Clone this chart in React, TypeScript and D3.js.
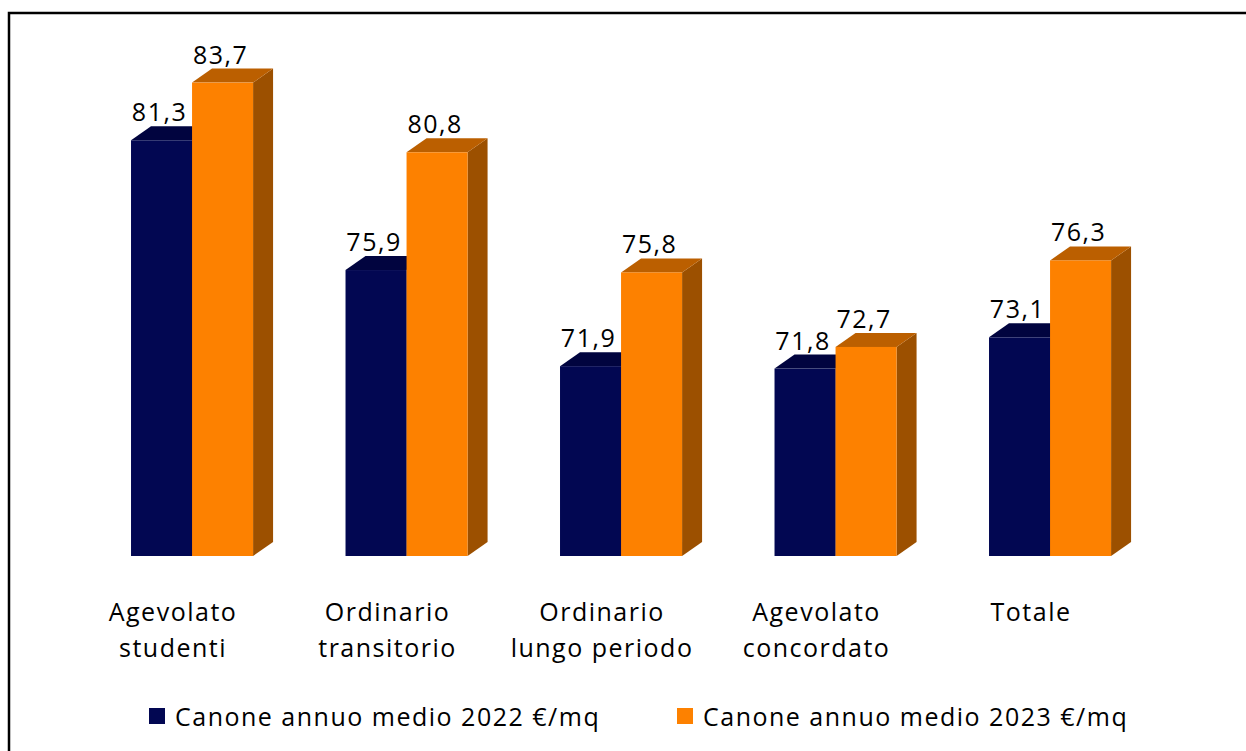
import React from "react";
import * as d3 from "d3";

const categories: string[][] = [
  ["Agevolato", "studenti"],
  ["Ordinario", "transitorio"],
  ["Ordinario", "lungo periodo"],
  ["Agevolato", "concordato"],
  ["Totale"],
];
const categoryKeys = categories.map((c) => c.join(" "));
const series2022: number[] = [81.3, 75.9, 71.9, 71.8, 73.1];
const series2023: number[] = [83.7, 80.8, 75.8, 72.7, 76.3];
const seriesNames = ["Canone annuo medio 2022 €/mq", "Canone annuo medio 2023 €/mq"];
const yDomain: [number, number] = [64, 84];

const W = 1246;
const H = 751;
const baseline = 556;
const dx = 20;
const dy = 14;
const FONT = "'Open Sans', sans-serif";

const colors = [
  { front: "#020752", top: "#01043f", side: "#01033a" },
  { front: "#fd8100", top: "#bb5f00", side: "#9c5000" },
];

const fmt = (v: number) => v.toFixed(1).replace(".", ",");

export default function App() {
  const x0 = d3
    .scaleBand<string>()
    .domain(categoryKeys)
    .range([84.8, 84.8 + 5 * 214.5])
    .paddingInner(0.431)
    .paddingOuter(0.2155);
  const x1 = d3.scaleBand<string>().domain(["2022", "2023"]).range([0, x0.bandwidth()]);
  const y = d3.scaleLinear().domain(yDomain).range([baseline, baseline - 20 * 24.03]);

  const data = [series2022, series2023];
  const keys = ["2022", "2023"];

  const bars: React.ReactNode[] = [];
  const labels: React.ReactNode[] = [];
  categoryKeys.forEach((cat, i) => {
    keys.forEach((k, s) => {
      const v = data[s][i];
      const bx = (x0(cat) as number) + (x1(k) as number);
      const bw = x1.bandwidth();
      const by = y(v);
      const c = colors[s];
      bars.push(
        <g key={`${cat}-${k}`}>
          <polygon
            points={`${bx + bw},${by} ${bx + bw + dx},${by - dy} ${bx + bw + dx},${baseline - dy} ${bx + bw},${baseline}`}
            fill={c.side}
          />
          <polygon
            points={`${bx},${by} ${bx + dx},${by - dy} ${bx + bw + dx},${by - dy} ${bx + bw},${by}`}
            fill={c.top}
          />
          <rect x={bx} y={by} width={bw} height={baseline - by} fill={c.front} />
        </g>
      );
      labels.push(
        <text
          key={`l-${cat}-${k}`}
          x={bx + bw / 2 - 2}
          y={by - 19}
          textAnchor="middle"
          fontFamily={FONT}
          fontSize={25}
          letterSpacing={1.5}
          fill="#000"
        >
          {fmt(v)}
        </text>
      );
    });
  });

  return (
    <svg
      width={W}
      height={H}
      style={{ position: "absolute", left: 0, top: 0, background: "#fff" }}
    >
      <rect x={0} y={0} width={W} height={H} fill="#fff" />
      <rect x={9} y={13} width={1260} height={780} fill="none" stroke="#000" strokeWidth={2.5} />
      {bars}
      {labels}
      {categories.map((lines, i) => {
        const cx = (x0(categoryKeys[i]) as number) + x0.bandwidth() / 2 - 19;
        return (
          <text
            key={`c-${i}`}
            x={cx}
            textAnchor="middle"
            fontFamily={FONT}
            fontSize={25}
            letterSpacing={1.5}
            fill="#000"
          >
            {lines.map((ln, j) => (
              <tspan key={j} x={cx} y={621 + j * 36}>
                {ln}
              </tspan>
            ))}
          </text>
        );
      })}
      {seriesNames.map((name, s) => {
        const lx = s === 0 ? 149 : 677;
        return (
          <g key={`leg-${s}`}>
            <rect x={lx} y={708} width={16} height={16} fill={colors[s].front} />
            <text
              x={lx + 26}
              y={726}
              fontFamily={FONT}
              fontSize={25}
              letterSpacing={1.5}
              fill="#000"
            >
              {name}
            </text>
          </g>
        );
      })}
    </svg>
  );
}
